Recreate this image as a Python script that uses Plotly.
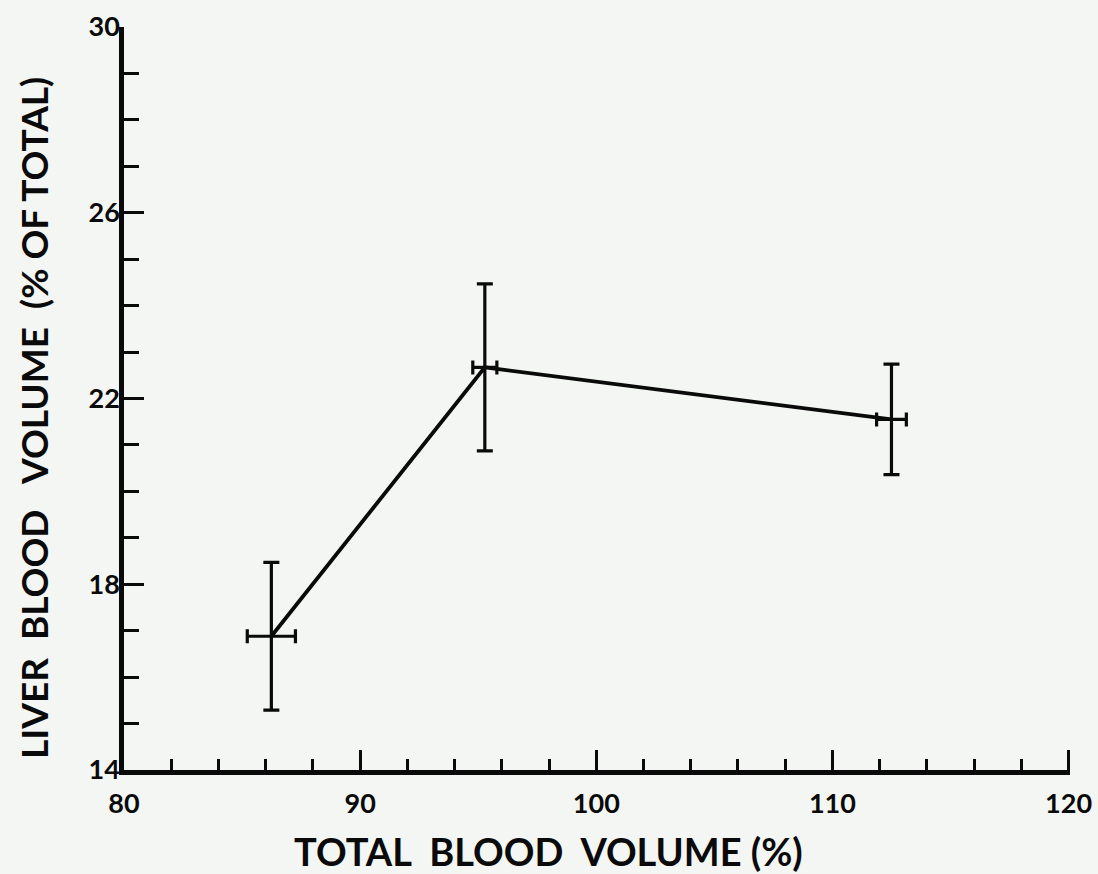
import plotly.graph_objects as go

# Data
total_blood_volume = [86.24, 95.28, 112.5]      # x, %
total_blood_volume_err = [1.02, 0.51, 0.63]
liver_blood_volume = [16.88, 22.67, 21.55]      # y, % of total
liver_blood_volume_err = [1.59, 1.80, 1.19]

x_major_ticks = [80, 90, 100, 110, 120]
y_major_ticks = [14, 18, 22, 26, 30]

x_title = "TOTAL\u00a0\u00a0BLOOD\u00a0\u00a0VOLUME\u00a0(%)"
y_title = "LIVER\u00a0\u00a0BLOOD\u00a0\u00a0\u00a0VOLUME\u00a0\u00a0(%\u00a0OF\u00a0TOTAL)"

FONT = "Lato"
INK = "#0a0a0a"
BG = "#f4f6f4"

fig = go.Figure()
fig.add_trace(go.Scatter(
    x=total_blood_volume,
    y=liver_blood_volume,
    mode="lines",
    line=dict(color=INK, width=3.8),
    error_y=dict(type="data", array=liver_blood_volume_err, visible=True,
                 color=INK, thickness=3.2, width=8),
    error_x=dict(type="data", array=total_blood_volume_err, visible=True,
                 color=INK, thickness=3.2, width=7),
    showlegend=False,
))

L, R, T, B = 124, 28, 27, 104
PW, PH = 1098 - L - R, 874 - T - B

fig.update_layout(
    width=1098, height=874,
    margin=dict(l=L, r=R, t=T, b=B),
    paper_bgcolor=BG,
    plot_bgcolor=BG,
    font=dict(family=FONT, color=INK),
    annotations=[
        dict(text=x_title, xref="paper", yref="paper", x=(548 - L) / PW, y=-(851 - (874 - B)) / PH,
             xanchor="center", yanchor="middle", showarrow=False,
             font=dict(size=38, family=FONT, color=INK, weight="bold")),
        dict(text=y_title, xref="paper", yref="paper", x=-(L - 33) / PW, y=((874 - B) - 418) / PH,
             xanchor="center", yanchor="middle", showarrow=False, textangle=-90,
             font=dict(size=37, family=FONT, color=INK, weight="bold")),
    ],
)

fig.update_xaxes(
    automargin=False,
    range=[80, 120.06],
    tickmode="array", tickvals=x_major_ticks, ticktext=[str(v) for v in x_major_ticks],
    showgrid=False, zeroline=False,
    showline=True, linecolor=INK, linewidth=4.5,
    ticks="inside", ticklen=20, tickwidth=3, tickcolor=INK,
    minor=dict(dtick=2, ticks="inside", ticklen=11, tickwidth=2.5, tickcolor=INK, showgrid=False),
    tickfont=dict(size=27, family=FONT, color=INK, weight="bold"),
    ticklabelstandoff=6,
    ticklabeloverflow="allow",
)

fig.update_yaxes(
    automargin=False,
    range=[14, 30],
    tickmode="array", tickvals=y_major_ticks, ticktext=[str(v) for v in y_major_ticks],
    showgrid=False, zeroline=False,
    showline=True, linecolor=INK, linewidth=4.5,
    ticks="inside", ticklen=20, tickwidth=3, tickcolor=INK,
    minor=dict(dtick=1, ticks="inside", ticklen=15, tickwidth=3, tickcolor=INK, showgrid=False),
    tickfont=dict(size=27, family=FONT, color=INK, weight="bold"),
    ticklabelstandoff=-6,
    ticklabeloverflow="allow",
)

fig.write_html(
    "out.html",
    config={"displayModeBar": False},
    post_script="document.body.style.margin='0';document.body.style.background='" + BG + "';",
)
